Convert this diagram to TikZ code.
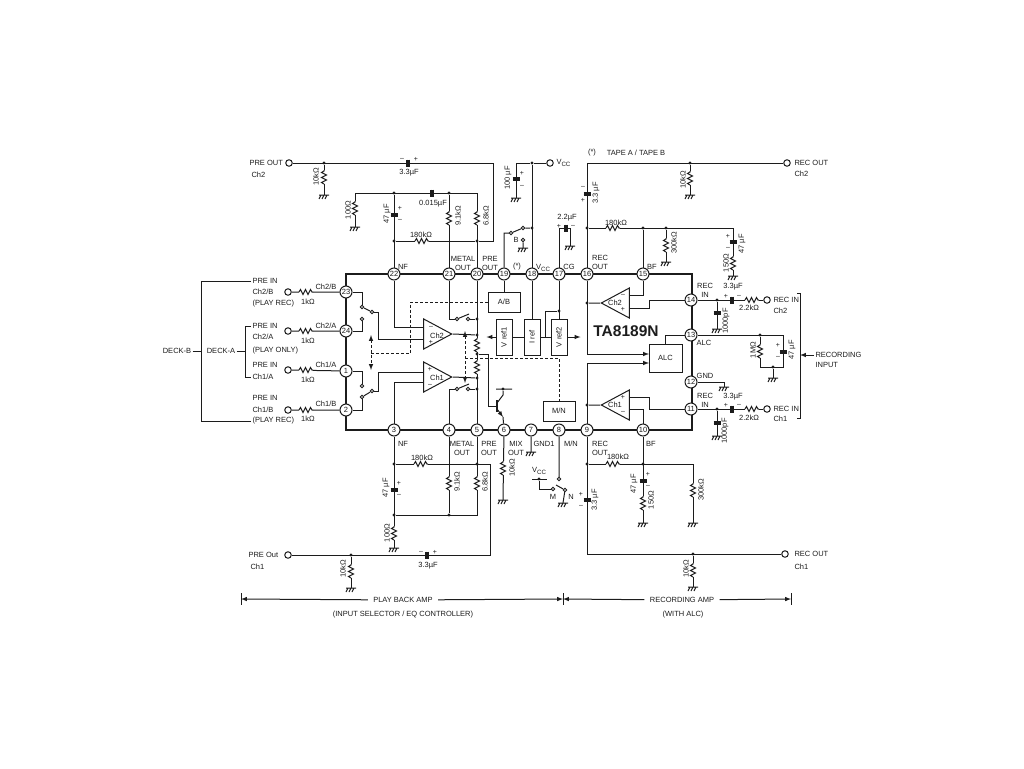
\documentclass[tikz,border=0pt]{standalone}
\usepackage{fontspec}
\setmainfont{Liberation Sans}
\usetikzlibrary{shapes.geometric}
\definecolor{ink}{HTML}{1c1c1c}
\newcommand{\vcc}{V\raisebox{-1.2pt}{\fontsize{6.2}{7}\selectfont CC}}

\begin{document}
\begin{tikzpicture}[x=1pt,y=-1pt,line width=1pt,color=ink,
    every node/.style={font=\fontsize{7.5}{9}\selectfont,text=ink},
    lab/.style={inner sep=1pt},
    labw/.style={inner sep=1pt,anchor=west},
    labr/.style={inner sep=1pt,rotate=90},
    sgn/.style={inner sep=0pt,font=\fontsize{7}{7}\selectfont},
    pinn/.style={circle,draw,fill=white,inner sep=0pt,minimum size=12pt},
    termn/.style={circle,draw,fill=white,inner sep=0pt,minimum size=6.5pt},
    cont/.style={circle,draw,fill=white,inner sep=0pt,minimum size=3.5pt},
    jdot/.style={circle,fill=ink,inner sep=0pt,minimum size=3.2pt},
    blk/.style={draw,fill=white,inner sep=0pt,minimum width=#1},
    opamp/.style={draw,fill=white,isosceles triangle,isosceles triangle stretches,
        inner sep=0pt,minimum width=30pt,minimum height=28pt,anchor=apex},
    ctl/.style={dashed,dash pattern=on 3pt off 2pt},
    pics/rz/.style={code={\fill[white] (-7,-3) rectangle (7,3);
        \draw (-7,0) -- (-5.5,-2.5) -- (-3,2.5) -- (-.5,-2.5) -- (2,2.5) -- (4.5,-2.5) -- (6,0) -- (7,0);}},
    pics/cz/.style={code={\fill[white] (-1.4,-4) rectangle (1.4,4);
        \draw[line width=1.7pt] (-1.3,-3.5) -- (-1.3,3.5) (1.3,-3.5) -- (1.3,3.5);}},
    pics/gnd/.style={code={\draw (-5,0) -- (5,0) (-3,0) -- (-5,4) (0,0) -- (-2,4) (3,0) -- (1,4);}}]
\useasboundingbox (0,0) rectangle (1024,768);
\draw[line width=1.8pt] (346,274) rectangle (692,430);
\foreach \N/\X/\Y in {22/394/274,21/449/274,20/477/274,19/504/274,18/532/274,17/559/274,16/587/274,15/643/274,
    14/691/300,13/691/335,12/691/382,11/691/409,10/643/430,9/587/430,8/559/430,7/531/430,6/504/430,5/477/430,
    4/449/430,3/394/430,2/346/410,1/346/371,24/346/331,23/346/292}
    \node[pinn] (P-\N) at (\X,\Y) {\N};
\foreach \N/\X/\Y in {1/289/163,2/288/292,3/288/331,4/288/370,5/288/410,6/288/555,7/550/163,8/787/163,
    9/767/300,10/767/409,11/785/554}
    \node[termn] (T-\N) at (\X,\Y) {};
\foreach \N/\X/\Y in {1/362/307,2/372/312,3/362/319,4/362/386,5/362/397,6/372/391,7/457/319,8/468/319,
    9/457/389,10/468/389,11/511/233,12/523/228,13/523/240,14/559/479,15/565/490,16/553/489}
    \node[cont] (C-\N) at (\X,\Y) {};
\foreach \N/\X/\Y in {1/324/163,2/394/193,3/449/193,4/394/241,5/477/241,6/394/464,7/477/464,8/394/515,9/449/515,
    10/351/555,11/477/319,12/477/335,13/477/354,14/477/378,15/477/389,16/503/389,17/559/311,18/532/228,19/532/163,
    20/690/163,21/587/228,22/643/228,23/666/228,24/587/303,25/587/405,26/760/335,27/773/367,28/717/300,29/717/409,
    30/587/464,31/643/464,32/693/554,33/539/479}
    \node[jdot] (J-\N) at (\X,\Y) {};
\foreach \N/\X/\Y in {1/324/195,2/355/227,3/394/548,4/351/588,5/516/198,6/523/248,7/570/246,8/690/195,9/666/262,
    10/733/276,11/717/329,12/773/378,13/724/387,14/717/436,15/531/452,16/503/500,17/563/503,18/643/523,19/693/523,20/693/587}
    \coordinate (G-\N) at (\X,\Y);
\foreach \N/\X/\Y in {2m/425/327,2p/425/339,1p/425/372,1m/425/382,3m/627/295,3p/627/308,4p/627/397,4m/627/409,
    5/649/354,6/649/363,7/497/406}
    \coordinate (I-\N) at (\X,\Y);
\coordinate (D-1) at (241,599);
\coordinate (D-2) at (563,599);
\coordinate (D-3) at (791,599);
\coordinate (E-1) at (800,355);
\node[blk=32pt,minimum height=20pt] (B-ab) at (504,302) {A/B};
\node[blk=16pt,minimum height=36pt] (B-v1) at (504,337) {\rotatebox{90}{V ref1}};
\node[blk=16pt,minimum height=36pt] (B-ir) at (532,337) {\rotatebox{90}{I ref}};
\node[blk=16pt,minimum height=36pt] (B-v2) at (559,337) {\rotatebox{90}{V ref2}};
\node[blk=32pt,minimum height=20pt] (B-mn) at (559,411) {M/N};
\node[blk=33pt,minimum height=28pt] (B-alc) at (665.5,358) {ALC};
\node[labw] (PB-1) at (251,281) {PRE IN};
\node[labw] (PB-2) at (251,304) {(PLAY REC)};
\node[labw] (PA-1) at (251,326) {PRE IN};
\node[labw] (PA-2) at (251,377) {Ch1/A};
\node[labw] (PC-2) at (251,421) {(PLAY REC)};
\node[lab] (deckb) at (177,351) {DECK-B};
\node[lab] (decka) at (221,351) {DECK-A};
\node[lab,inner sep=5pt] (pbamp) at (403,600) {PLAY BACK AMP};
\node[lab,inner sep=5pt] (recamp) at (682,600) {RECORDING AMP};
\node[labw] (recin) at (814,355) {RECORDING};
\draw (T-1) -- (493,163) |- (J-5) (J-1) -- (G-1);
\draw (G-2) -- (355,193) -- (477,193) -- (P-20);
\draw (J-2) -- (P-22) (J-3) -- (P-21) (J-4) -- (J-5);
\draw (P-3) -- (G-3) (J-6) -- (490,464) -- (490,555) -- (T-6) (J-10) -- (G-4);
\draw (P-4) -- (J-9) (P-5) -- (477,515) -- (J-8);
\draw (T-2) -- (P-23) (T-3) -- (P-24) (T-4) -- (P-1) (T-5) -- (P-2);
\draw (P-23) -| (C-1) (P-24) -| (C-3) (P-1) -| (C-4) (P-2) -| (C-5);
\draw (C-1) -- (C-2) (C-5) -- (C-6);
\draw (C-2) -- (378,312) |- (I-2p) (C-6) -- (378,391) |- (I-1p);
\draw (P-22) |- (I-2m) (P-3) |- (I-1m);
\draw (P-20) -- (P-5);
\draw (P-21) |- (C-7) (C-8) -- (J-11) (P-4) |- (C-9) (C-10) -- (J-15);
\draw (C-7) -- ++(12,-5) (C-9) -- ++(12,-5);
\draw (J-13) -- (488,354) |- (I-7);
\draw[line width=1.6pt] (497,400) -- (497,412);
\draw (497,403) -- (503,395) -- (J-16) (496,389) -- (512,389);
\draw[-latex] (497,409) -- (503,417);
\draw (503,417) -- (P-6);
\draw (P-19) -- (B-ab) (P-18) -- (B-ir) (P-17) -- (B-v2);
\draw (J-17) -- (545,311) -- (545,337);
\draw (B-v1) -- (B-ir) (B-ir) -- (B-v2);
\draw[-latex] (B-v1.west) -- ++(-9,0);
\draw[-latex] (B-v2.east) -- ++(13,0);
\draw (P-19) |- (C-11) (C-11) -- (C-12) (C-12) -- (J-18) (C-13) -- (G-6);
\draw (P-18) -- (J-19) -- (T-7) (J-19) -- (516,163) -- (G-5);
\draw (P-17) -- (559,228) -- (570,228) -- (G-7);
\draw (P-16) -- (587,163) -- (T-8) (J-20) -- (G-8);
\draw (J-21) -- (733,228) -- (G-10) (J-23) -- (G-9) (P-15) -- (J-22);
\draw (P-15) |- (I-3m) (I-3p) -- (649,308) -- (649,300) -- (P-14);
\draw[-latex] (P-16) |- (I-5);
\draw[-latex] (P-9) |- (I-6);
\draw (B-alc.north) |- (P-13);
\draw (P-13) -- (783,335) -- (783,367) -- (760,367) -- (J-26) (J-27) -- (G-12);
\draw (P-14) -- (T-9) (P-11) -- (T-10) (J-28) -- (G-11) (J-29) -- (G-14);
\draw (P-12) -- (724,382) -- (G-13);
\draw (P-11) -- (649,409) -- (649,397) -- (I-4p) (I-4m) -- (643,409) -- (P-10);
\draw (P-10) -- (G-18) (J-30) -- (693,464) -- (G-19);
\draw (P-9) -- (587,554) -- (T-11) (J-32) -- (G-20);
\draw (P-7) -- (G-15) (P-6) -- (G-16) (P-8) -- (C-14) (C-15) -- (G-17) (C-15) -- ++(-9,-5);
\draw (532,479) -- (547,479) (J-33) |- (C-16);
\node[opamp] (A-2) at (453,334) {};
\node[opamp] (A-1) at (453,377) {};
\node[opamp,shape border rotate=180] (A-3) at (600,303) {};
\node[opamp,shape border rotate=180] (A-4) at (600,405) {};
\draw (A-2.apex) -- (J-12) (A-1.apex) -- (J-14) (A-3.apex) -- (J-24) (A-4.apex) -- (J-25);
\draw[ctl] (B-ab) -- (410,302) -- (410,353) -- (371,353);
\draw[ctl,latex-latex] (371,335) -- (371,370);
\draw[ctl,latex-latex] (465,331) -- (465,383);
\draw[ctl] (465,358) -- (559,358) -- (B-mn);
\draw (PB-1) -- (201,281) -- (201,421) -- (PC-2) (deckb) -- (201,351);
\draw (PA-1) -- (245,326) -- (245,377) -- (PA-2) (decka) -- (245,351);
\draw[-latex] (pbamp) -- (D-1);
\draw[-latex] (pbamp) -- (D-2);
\draw[-latex] (recamp) -- (D-2);
\draw[-latex] (recamp) -- (D-3);
\foreach \N in {1,2,3}
    \draw (D-\N) ++(0,-6) -- ++(0,12);
\draw (797,293) -- (800,293) -- (800,418) -- (797,418);
\draw[-latex] (recin) -- (E-1);
\foreach \X/\Y in {422/241,306/292,306/331,306/370,306/410,421/464,613/228,613/464,752/300,752/409}
    \pic at (\X,\Y) {rz};
\foreach \X/\Y in {324/177,355/208,449/218,477/218,394/533,449/483,477/483,351/571,477/345,477/367,503/468,
    690/178,666/245,733/263,760/351,643/503,693/490,693/570}
    \pic[rotate=90] at (\X,\Y) {rz};
\foreach \X/\Y in {408/163,432/193,427/555,566/228,732/300,732/409}
    \pic at (\X,\Y) {cz};
\foreach \X/\Y in {394/215,394/490,516/179,587/194,733/242,783/352,717/313,717/423,643/481,587/500}
    \pic[rotate=90] at (\X,\Y) {cz};
\foreach \N in {1,...,20}
    \pic at (G-\N) {gnd};
\foreach \X/\Y/\T [count=\I] in {
    409/173/3.3µF,433/204/0.015µF,421/235/180kΩ,428/566/3.3µF,422/458/180kΩ,
    403/267/NF,463/259/METAL,463/268/OUT,490/259/PRE,490/268/OUT,517/267/(*),
    543/268/\vcc,569/267/CG,600/258/REC,600/267/OUT,652/267/BF,
    403/444/NF,462/444/METAL,462/453/OUT,489/444/PRE,489/453/OUT,516/444/MIX,516/453/OUT,
    544/444/GND1,571/444/{M/N},600/444/REC,600/453/OUT,651/444/BF,
    326/287/{Ch2/B},326/326/{Ch2/A},326/365/{Ch1/A},326/404/{Ch1/B},
    308/302/1kΩ,308/341/1kΩ,308/380/1kΩ,308/419/1kΩ,
    437/336/Ch2,437/378/Ch1,615/303/Ch2,615/405/Ch1,
    567/218/2.2µF,616/223/180kΩ,618/457/180kΩ,733/287/3.3µF,733/397/3.3µF,749/308/2.2kΩ,749/418/2.2kΩ,
    705/286/REC,705/295/IN,705/396/REC,705/405/IN,704/343/ALC,705/376/GND,
    592/153/(*),636/153/{TAPE A / TAPE B},516/240/B,539/471/\vcc,553/497/M,571/497/N,
    403/615/{(INPUT SELECTOR / EQ CONTROLLER)},683/615/(WITH ALC)}
    \node[lab] (L-\I) at (\X,\Y) {\T};
\foreach \X/\Y/\T [count=\I] in {
    316/177/10kΩ,348/210/100Ω,387/214/47 µF,458/216/9.1kΩ,486/216/6.8kΩ,
    386/488/47 µF,387/533/100Ω,457/482/9.1kΩ,485/482/6.8kΩ,343/569/10kΩ,512/468/10kΩ,
    508/178/100 µF,596/193/3.3 µF,683/180/10kΩ,674/243/300kΩ,742/244/47 µF,726/263/150Ω,
    753/350/1MΩ,792/350/47 µF,726/321/1000pF,725/431/1000pF,
    634/484/47 µF,651/500/150Ω,701/490/300kΩ,595/500/3.3 µF,686/569/10kΩ}
    \node[labr] (R-\I) at (\X,\Y) {\T};
\foreach \X/\Y/\T [count=\I] in {
    248/163/PRE OUT,250/175/Ch2,251/292/{Ch2/B},251/337/{Ch2/A},251/351/(PLAY ONLY),251/365/PRE IN,
    251/398/PRE IN,251/410/{Ch1/B},247/555/PRE Out,249/567/Ch1,
    555/163/\vcc,793/163/REC OUT,793/174/Ch2,772/300/REC IN,772/311/Ch2,772/409/REC IN,772/419/Ch1,
    793/554/REC OUT,793/567/Ch1,814/365/INPUT}
    \node[labw] (W-\I) at (\X,\Y) {\T};
\foreach \X/\Y/\T [count=\I] in {
    402/159/--,416/159/+,400/208/+,400/220/--,421/552/--,435/552/+,399/483/+,399/495/--,
    431/327/--,431/342/+,430/369/+,430/385/--,623/295/--,623/309/+,623/397/+,623/412/--,
    522/173/+,522/186/--,559/226/+,573/226/--,583/187/--,583/200/+,728/236/+,728/248/--,
    726/296/+,739/296/--,726/405/+,739/405/--,778/345/+,778/357/--,648/474/+,648/486/--,581/494/+,581/506/--}
    \node[sgn] (S-\I) at (\X,\Y) {\T};
\node[inner sep=0pt,font=\fontsize{15.5}{16}\selectfont\bfseries] (chipname) at (626,331) {TA8189N};
\end{tikzpicture}
\end{document}
